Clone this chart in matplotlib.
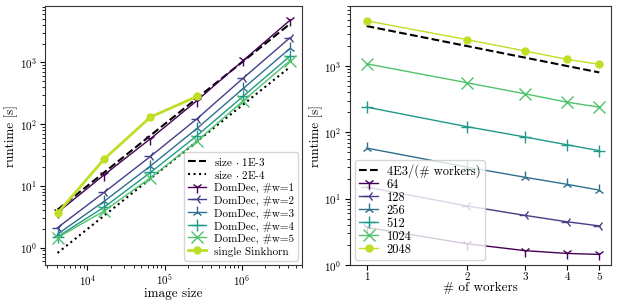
import numpy as np
import matplotlib
matplotlib.use("Agg")
import matplotlib.pyplot as plt

plt.rcParams["font.family"] = "serif"
plt.rcParams["font.serif"] = ["cmr10"]
plt.rcParams["mathtext.fontset"] = "cm"
plt.rcParams["axes.formatter.use_mathtext"] = True
plt.rcParams["font.size"] = 8
plt.rcParams["axes.edgecolor"] = "#333333"
plt.rcParams["xtick.major.pad"] = 2
plt.rcParams["ytick.major.pad"] = 2.5

resolutions = [64, 128, 256, 512, 1024, 2048]
image_sizes = np.array([r ** 2 for r in resolutions])
workers = np.array([1, 2, 3, 4, 5])

# runtime[size][#workers]
runtime = {
    64: [3.7, 2.1, 1.65, 1.5, 1.45],
    128: [15, 7.8, 5.6, 4.5, 3.9],
    256: [58, 30, 21, 16.5, 13.5],
    512: [240, 122, 85, 65, 53],
    1024: [1080, 560, 380, 285, 240],
    2048: [4800, 2500, 1680, 1260, 1060],
}
sinkhorn_sizes = image_sizes[:4]
sinkhorn_runtime = [3.6, 27, 130, 280]

colors = plt.cm.viridis(np.linspace(0, 0.9, 6))
worker_markers = ["1", "3", "2", "+", "x"]
size_markers = ["1", "3", "2", "+", "x", "o"]

runtime_table = np.array([runtime[r] for r in resolutions])

fig = plt.figure(figsize=(6.18, 3.03), dpi=100)
ax1 = fig.add_axes([0.073, 0.125, 0.416, 0.855])
ax2 = fig.add_axes([0.566, 0.125, 0.423, 0.855])

# left: runtime vs image size
ax1.plot(image_sizes, image_sizes * 1e-3, "k--", label=r"size $\cdot$ 1E-3")
ax1.plot(image_sizes, image_sizes * 2e-4, "k:", label=r"size $\cdot$ 2E-4")
for i, w in enumerate(workers):
    ax1.plot(image_sizes, runtime_table[:, i], color=colors[i], marker=worker_markers[i],
             markersize=8, lw=1, label="DomDec, #w=%d" % w)
ax1.plot(sinkhorn_sizes, sinkhorn_runtime, color=colors[5], marker="o", markersize=5,
         lw=2, label="single Sinkhorn")
ax1.set_xscale("log")
ax1.set_yscale("log")
ax1.set_xlim(2830, 6.04e6)
ax1.set_ylim(0.52, 8150)
ax1.set_xlabel("image size", fontsize=9.5, labelpad=0)
ax1.set_ylabel("runtime [s]", fontsize=9.5, labelpad=1)
ax1.legend(loc="lower right", fontsize=8, labelspacing=0.1, borderpad=0.35,
           handlelength=1.6, handleheight=1.2, handletextpad=0.7, borderaxespad=0.4)

# right: runtime vs number of workers
ax2.plot(workers, 4e3 / workers, "k--", label="4E3/(# workers)")
for i, r in enumerate(resolutions):
    ax2.plot(workers, runtime[r], color=colors[i], marker=size_markers[i],
             markersize=8 if i < 5 else 5, lw=1, label=str(r))
ax2.set_xscale("log")
ax2.set_yscale("log")
ax2.set_xticks(workers)
ax2.set_xticklabels([str(w) for w in workers])
ax2.xaxis.set_minor_locator(matplotlib.ticker.NullLocator())
ax2.set_xlim(0.89, 5.43)
ax2.set_ylim(1, 8000)
ax2.set_xlabel("# of workers", fontsize=9.5, labelpad=0)
ax2.set_ylabel("runtime [s]", fontsize=9.5, labelpad=1)
ax2.legend(loc="lower left", fontsize=9, labelspacing=0.0, borderpad=0.35,
           handlelength=1.5, handleheight=1.0, handletextpad=0.7, borderaxespad=0.4)

fig.savefig("out.png", dpi=100)
